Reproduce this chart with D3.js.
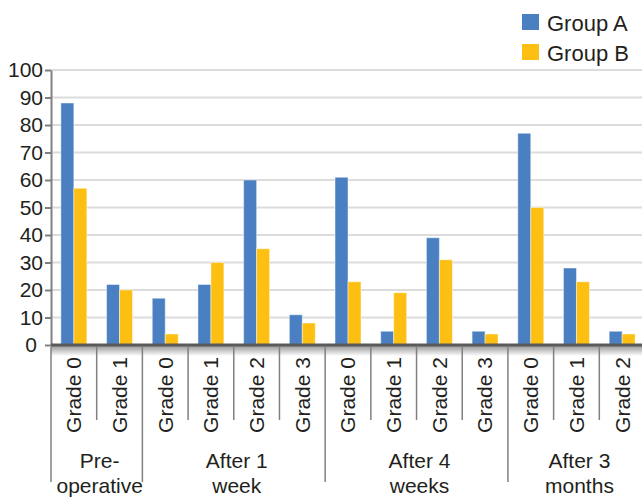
<!DOCTYPE html>
<html>
<head>
<meta charset="utf-8">
<script src="https://cdn.jsdelivr.net/npm/d3@7/dist/d3.min.js"></script>
<style>
  html, body { margin: 0; padding: 0; background: #fff; }
  svg { display: block; font-family: "Liberation Sans", Arial, sans-serif; }
</style>
</head>
<body>
<svg id="chart" width="642" height="498"></svg>
<script>
// Period groups and the grade categories inside each
const periods = [
  { name: ["Pre-", "operative"], grades: ["Grade 0", "Grade 1"] },
  { name: ["After 1", "week"], grades: ["Grade 0", "Grade 1", "Grade 2", "Grade 3"] },
  { name: ["After 4", "weeks"], grades: ["Grade 0", "Grade 1", "Grade 2", "Grade 3"] },
  { name: ["After 3", "months"], grades: ["Grade 0", "Grade 1", "Grade 2"] }
];
const seriesNames = ["Group A", "Group B"];
const groupA = [88, 22, 17, 22, 60, 11, 61, 5, 39, 5, 77, 28, 5];
const groupB = [57, 20, 4, 30, 35, 8, 23, 19, 31, 4, 50, 23, 4];
const yTicks = [0, 10, 20, 30, 40, 50, 60, 70, 80, 90, 100];
const colors = ["#4a80c1", "#fcbf12"];

(function draw() {
  // Flatten periods into one list of categories
  const categories = [];
  periods.forEach((p, pi) => p.grades.forEach(g => categories.push({ key: pi + "-" + g, grade: g, period: pi })));

  const svg = d3.select("#chart");
  const plotLeft = 51, plotRight = 645, plotTop = 70, plotBottom = 345;
  const textColor = "#231f20";

  const x = d3.scaleBand().domain(categories.map(c => c.key)).range([plotLeft, plotRight]).paddingInner(0).paddingOuter(0);
  const xs = d3.scaleBand().domain(seriesNames).range([0, x.bandwidth()]).paddingInner(0).paddingOuter(0.76);
  const y = d3.scaleLinear().domain([0, 100]).range([plotBottom, plotTop]);

  // Horizontal gridlines
  svg.append("g").selectAll("line").data(yTicks.filter(t => t > 0)).join("line")
    .attr("x1", plotLeft).attr("x2", plotRight)
    .attr("y1", d => y(d)).attr("y2", d => y(d))
    .attr("stroke", "#dcdcdc").attr("stroke-width", 2);

  // Shadow beneath the category axis
  const defs = svg.append("defs");
  const grad = defs.append("linearGradient").attr("id", "axisShade").attr("x1", 0).attr("x2", 0).attr("y1", 0).attr("y2", 1);
  grad.append("stop").attr("offset", "0%").attr("stop-color", "#9a9a9a");
  grad.append("stop").attr("offset", "100%").attr("stop-color", "#ffffff");
  svg.append("rect").attr("x", plotLeft).attr("y", plotBottom + 1).attr("width", plotRight - plotLeft).attr("height", 10)
    .attr("fill", "url(#axisShade)");

  // Bars
  const rows = categories.map((c, i) => ({ key: c.key, values: [groupA[i], groupB[i]] }));
  svg.append("g").selectAll("g").data(rows).join("g")
    .attr("transform", d => `translate(${x(d.key)},0)`)
    .selectAll("rect").data(d => d.values.map((v, si) => ({ s: seriesNames[si], v, si })))
    .join("rect")
    .attr("x", d => xs(d.s)).attr("width", xs.bandwidth())
    .attr("y", d => y(d.v)).attr("height", d => y(0) - y(d.v))
    .attr("fill", d => colors[d.si])
    .attr("stroke", "rgba(255,255,255,0.45)").attr("stroke-width", 1);

  // Y axis
  const yAxis = svg.append("g").attr("transform", `translate(${plotLeft},0)`)
    .call(d3.axisLeft(y).tickValues(yTicks).tickSize(6).tickPadding(2).tickSizeOuter(0));
  yAxis.select(".domain").attr("stroke", "#808080").attr("stroke-width", 2);
  yAxis.selectAll(".tick line").attr("stroke", "#808080").attr("stroke-width", 2);
  yAxis.selectAll(".tick text").attr("fill", textColor).attr("font-size", 21)
    .attr("font-family", "Liberation Sans, Arial, sans-serif")
    .attr("dx", d => d === 0 ? -6 : 0);

  // Category axis line
  svg.append("line").attr("x1", plotLeft).attr("x2", plotRight).attr("y1", plotBottom).attr("y2", plotBottom)
    .attr("stroke", "#5a5a5a").attr("stroke-width", 3);

  // Separators between categories; period boundaries run longer
  const bounds = categories.map((c, i) => ({
    x: x(c.key),
    long: i === 0 || categories[i - 1].period !== c.period
  }));
  svg.append("g").selectAll("line").data(bounds).join("line")
    .attr("x1", d => d.x).attr("x2", d => d.x)
    .attr("y1", plotBottom + 2).attr("y2", d => d.long ? 482 : 420)
    .attr("stroke", "#808080").attr("stroke-width", 1.5);

  // Rotated grade labels
  svg.append("g").selectAll("text").data(categories).join("text")
    .attr("transform", d => `translate(${x(d.key) + x.bandwidth() / 2},357) rotate(-90)`)
    .attr("text-anchor", "end").attr("dy", "0.35em")
    .attr("font-size", 21).attr("fill", textColor)
    .text(d => d.grade);

  // Period labels, two lines each
  periods.forEach((p, pi) => {
    const keys = categories.filter(c => c.period === pi).map(c => c.key);
    const cx = (x(keys[0]) + x(keys[keys.length - 1]) + x.bandwidth()) / 2 + 3;
    const t = svg.append("text").attr("text-anchor", "middle").attr("font-size", 21).attr("fill", textColor);
    p.name.forEach((line, li) => {
      t.append("tspan").attr("x", cx).attr("y", 468 + li * 25).text(line);
    });
  });

  // Legend
  const legend = svg.append("g").attr("transform", "translate(522,14)");
  seriesNames.forEach((s, i) => {
    const g = legend.append("g").attr("transform", `translate(0,${i * 30})`);
    g.append("rect").attr("width", 17).attr("height", 16).attr("fill", colors[i]);
    g.append("text").attr("x", 25).attr("y", 17).attr("font-size", 22).attr("fill", textColor).text(s);
  });
})();
</script>
</body>
</html>
